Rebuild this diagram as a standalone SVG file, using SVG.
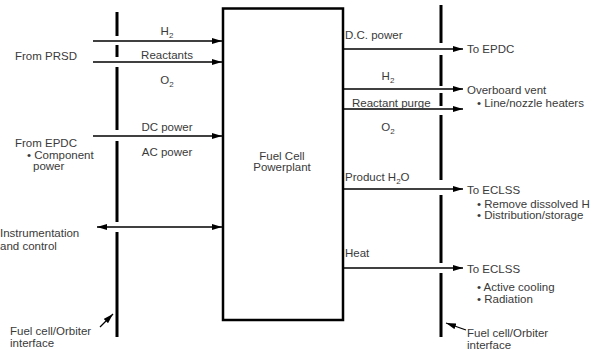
<svg xmlns="http://www.w3.org/2000/svg" width="595" height="350" viewBox="0 0 595 350">
<style>
text{font-family:"Liberation Sans",Arial,sans-serif;font-size:11.5px;fill:#3a3a3a}
.c{text-anchor:middle}
.s{font-size:8px}
.iface{stroke:#000;stroke-width:3;fill:none}
.ar{stroke:#000;stroke-width:1.3;fill:none}
.ld{stroke:#000;stroke-width:1.2;fill:none}
</style>
<defs>
<marker id="ah" viewBox="0 0 10 6" refX="10" refY="3" markerWidth="10" markerHeight="6" markerUnits="userSpaceOnUse" orient="auto-start-reverse">
<path d="M0,0 L10,3 L0,6 Z" fill="#000"/>
</marker>
</defs>
<rect width="595" height="350" fill="#fff"/>
<g id="interface-left">
<path class="iface" d="M117,12V36 M117,45V57 M117,67V130 M117,141V222 M117,232V337"/>
</g>
<g id="interface-right">
<path class="iface" d="M441,5V43 M441,55V86 M441,93V106 M441,115V180 M441,195V263 M441,273V337"/>
</g>
<g id="powerplant">
<rect x="223" y="8.5" width="120" height="311.5" fill="#fff" stroke="#000" stroke-width="2.5"/>
<text class="c" x="282" y="160">Fuel Cell</text>
<text class="c" x="282" y="171">Powerplant</text>
</g>
<g id="connectors">
<line class="ar" x1="93" y1="41" x2="222" y2="41" marker-end="url(#ah)"/>
<line class="ar" x1="93" y1="62" x2="222" y2="62" marker-end="url(#ah)"/>
<line class="ar" x1="93" y1="136" x2="222" y2="136" marker-end="url(#ah)"/>
<line class="ar" x1="97" y1="227" x2="222" y2="227" marker-start="url(#ah)" marker-end="url(#ah)"/>
<line class="ar" x1="343" y1="49" x2="463" y2="49" marker-end="url(#ah)"/>
<line class="ar" x1="343" y1="89" x2="463" y2="89" marker-end="url(#ah)"/>
<line class="ar" x1="343" y1="109" x2="463" y2="109" marker-end="url(#ah)"/>
<line class="ar" x1="343" y1="189" x2="463" y2="189" marker-end="url(#ah)"/>
<line class="ar" x1="343" y1="268" x2="463" y2="268" marker-end="url(#ah)"/>
<line class="ld" x1="100" y1="327" x2="113" y2="314" marker-end="url(#ah)"/>
<line class="ld" x1="466" y1="330" x2="446" y2="323" marker-end="url(#ah)"/>
</g>
<g id="labels-left">
<text class="c" x="167" y="35">H<tspan class="s" dy="3">2</tspan></text>
<text x="15" y="60">From PRSD</text>
<text class="c" x="167" y="59">Reactants</text>
<text class="c" x="167" y="84">O<tspan class="s" dy="3">2</tspan></text>
<text class="c" x="167" y="131">DC power</text>
<text class="c" x="167" y="156">AC power</text>
<text x="15" y="147">From EPDC</text>
<text x="27" y="159">• Component</text>
<text x="33" y="170">power</text>
<text x="0" y="237">Instrumentation</text>
<text x="0" y="250">and control</text>
<text x="10" y="335">Fuel cell/Orbiter</text>
<text x="10" y="347">interface</text>
</g>
<g id="labels-right">
<text x="345" y="39">D.C. power</text>
<text x="467" y="53">To EPDC</text>
<text class="c" x="388" y="80">H<tspan class="s" dy="3">2</tspan></text>
<text x="467" y="94">Overboard vent</text>
<text x="477" y="107">• Line/nozzle heaters</text>
<text x="352" y="107">Reactant purge</text>
<text class="c" x="388" y="131">O<tspan class="s" dy="3">2</tspan></text>
<text x="345" y="181">Product H<tspan class="s" dy="3">2</tspan><tspan dy="-3">O</tspan></text>
<text x="467" y="194">To ECLSS</text>
<text x="477" y="208">• Remove dissolved H</text>
<text x="477" y="219">• Distribution/storage</text>
<text x="345" y="257">Heat</text>
<text x="467" y="273">To ECLSS</text>
<text x="477" y="291">• Active cooling</text>
<text x="477" y="303">• Radiation</text>
<text x="467" y="337">Fuel cell/Orbiter</text>
<text x="467" y="349">interface</text>
</g>
</svg>
